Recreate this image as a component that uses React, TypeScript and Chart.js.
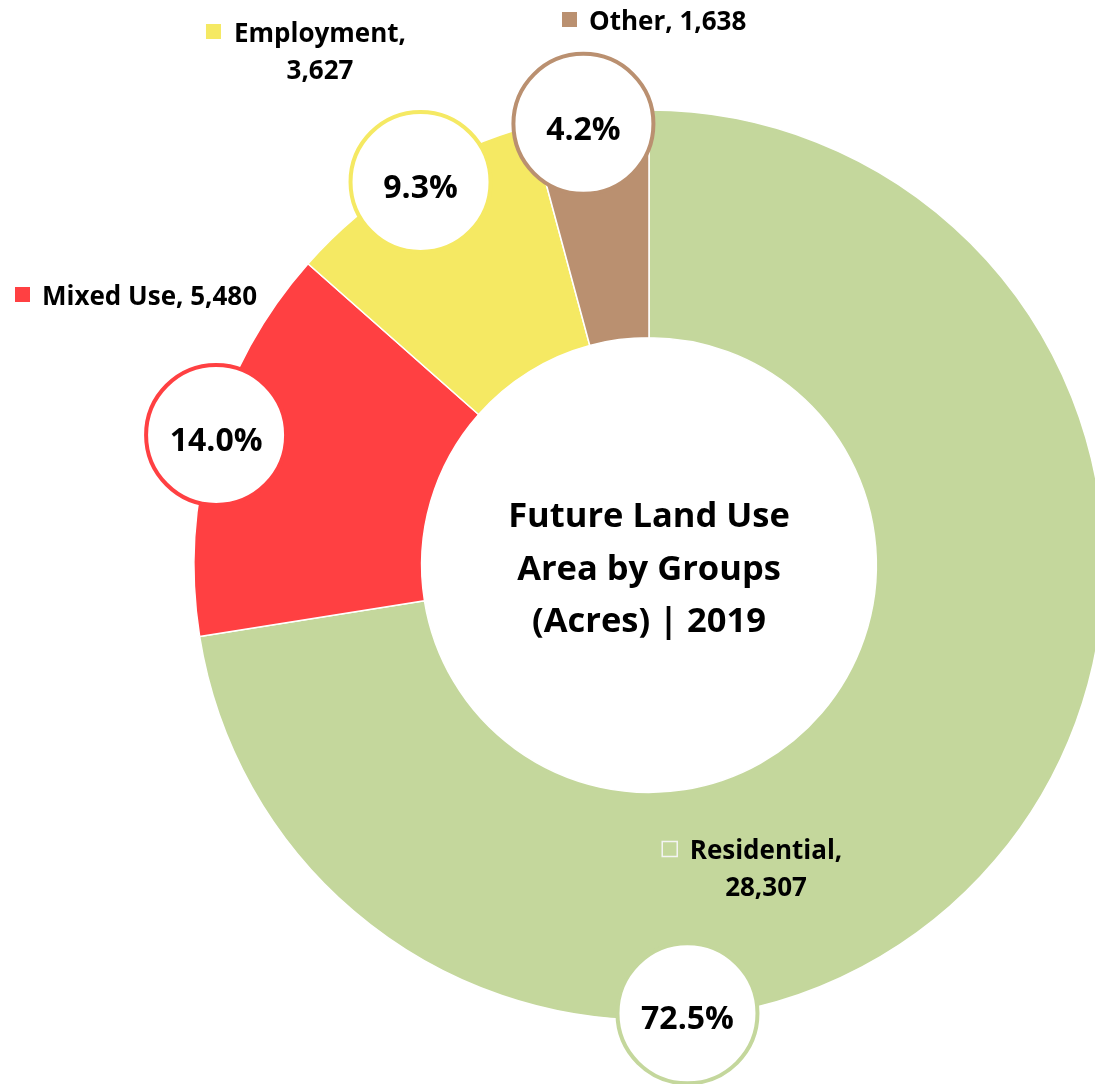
import React, { useEffect, useRef } from "react";
import { Chart, registerables } from "chart.js";

Chart.register(...registerables);

const categories = ["Residential", "Mixed Use", "Employment", "Other"];
const acres = [28307, 5480, 3627, 1638];
const sliceColors = ["#C4D79C", "#FF4042", "#F5E963", "#BA9070"];
const titleLines = ["Future Land Use", "Area by Groups", "(Acres) | 2019"];

// label layout (canvas px): legend-like category labels
const categoryLabelLayout = [
  { x: 766, y: 859, split: true, box: "hollow" },
  { x: 42, y: 305, split: false, box: "fill" },
  { x: 320, y: 42, split: true, box: "fill" },
  { x: 589, y: 30, split: false, box: "fill" },
];
// where along each slice the percentage bubble sits (fraction of arc)
const bubbleFraction = [0.671, 0.51, 0.53, 0.44];
const bubbleDistance = [450, 452, 446, 446];

const FONT = "'Open Sans', Lato, sans-serif";

function fmt(n: number) {
  return n.toLocaleString("en-US");
}

const labelPlugin = {
  id: "landUseLabels",
  afterDatasetsDraw(chart: any) {
    const ctx = chart.ctx as CanvasRenderingContext2D;
    const meta = chart.getDatasetMeta(0);
    const data = chart.data.datasets[0].data as number[];
    const total = data.reduce((a, b) => a + b, 0);
    const first = meta.data[0];
    const cx = first.x;
    const cy = first.y;

    ctx.save();
    // center title
    ctx.fillStyle = "#000";
    ctx.textAlign = "center";
    ctx.textBaseline = "alphabetic";
    ctx.font = `bold 34.5px ${FONT}`;
    titleLines.forEach((line, i) => {
      ctx.fillText(line, cx, cy - 38 + i * 52.5);
    });

    // percentage bubbles
    meta.data.forEach((arc: any, i: number) => {
      const a = arc.startAngle + (arc.endAngle - arc.startAngle) * bubbleFraction[i];
      const R = bubbleDistance[i];
      const bx = cx + R * Math.cos(a);
      const by = cy + R * Math.sin(a);
      ctx.beginPath();
      ctx.arc(bx, by, 70, 0, Math.PI * 2);
      ctx.fillStyle = "#fff";
      ctx.fill();
      ctx.lineWidth = 4;
      ctx.strokeStyle = sliceColors[i];
      ctx.stroke();
      ctx.fillStyle = "#000";
      ctx.font = `bold 32px ${FONT}`;
      ctx.textAlign = "center";
      ctx.textBaseline = "alphabetic";
      ctx.fillText(((data[i] / total) * 100).toFixed(1) + "%", bx, by + 16);
    });

    // category labels
    ctx.font = `bold 26px ${FONT}`;
    categoryLabelLayout.forEach((L, i) => {
      const name = categories[i] + ",";
      const val = fmt(data[i]);
      let boxX: number;
      const boxY = L.y - 18;
      ctx.fillStyle = "#000";
      ctx.textBaseline = "alphabetic";
      if (L.split) {
        ctx.textAlign = "center";
        ctx.fillText(name, L.x, L.y);
        ctx.fillText(val, L.x, L.y + 37);
        const w = ctx.measureText(name).width;
        boxX = L.x - w / 2 - 28;
      } else {
        ctx.textAlign = "left";
        ctx.fillText(name + " " + val, L.x, L.y);
        boxX = L.x - 27;
      }
      if (L.box === "hollow") {
        ctx.lineWidth = 1.5;
        ctx.strokeStyle = "#F4F4F4";
        ctx.strokeRect(boxX + 0.5, boxY + 0.5, 15, 15);
      } else {
        ctx.fillStyle = sliceColors[i];
        ctx.fillRect(boxX, boxY, 15, 15);
      }
    });
    ctx.restore();
  },
};

export default function App() {
  const ref = useRef<HTMLCanvasElement>(null);
  useEffect(() => {
    document.body.style.margin = "0";
    const chart = new Chart(ref.current as HTMLCanvasElement, {
      type: "doughnut",
      data: {
        labels: categories,
        datasets: [
          {
            data: acres,
            backgroundColor: sliceColors,
            borderColor: "#ffffff",
            borderWidth: 1.5,
            hoverOffset: 0,
            offset: 0,
          },
        ],
      },
      options: {
        responsive: false,
        animation: false,
        devicePixelRatio: 1,
        radius: 455,
        cutout: 227,
        layout: { padding: { left: 194, right: 6, top: 110, bottom: 64 } },
        plugins: {
          legend: { display: false },
          tooltip: { enabled: false },
          title: { display: false },
        },
        events: [],
      } as any,
      plugins: [labelPlugin],
    });
    return () => chart.destroy();
  }, []);
  return (
    <div style={{ position: "absolute", left: 0, top: 0, width: 1095, height: 1084, overflow: "hidden", background: "#fff" }}>
      <canvas ref={ref} width={1110} height={1084} style={{ display: "block" }} />
    </div>
  );
}
